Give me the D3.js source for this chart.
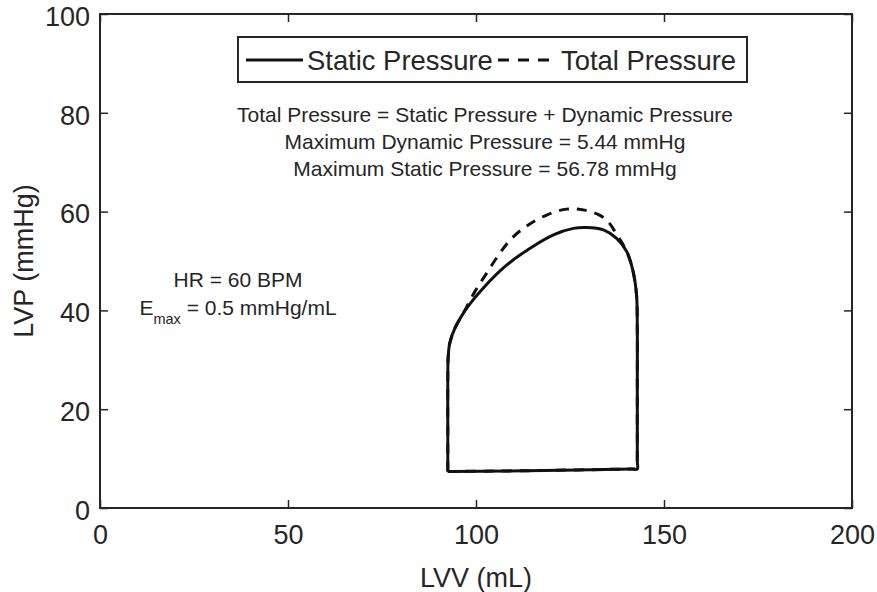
<!DOCTYPE html>
<html>
<head>
<meta charset="utf-8">
<script src="https://cdn.jsdelivr.net/npm/d3@7"></script>
<style>
  body { margin: 0; background: #fff; }
  text { font-family: "Liberation Sans", Arial, sans-serif; fill: #262626; }
</style>
</head>
<body>
<svg id="chart" width="877" height="592"></svg>
<script>
// Axis ticks
const xTicks = [0, 50, 100, 150, 200];
const yTicks = [0, 20, 40, 60, 80, 100];

// Pressure-volume loop, static pressure (LVV mL, LVP mmHg)
const lvvStatic = [92.5, 94, 118, 141.5, 142.9, 142.9, 142.9, 142.9, 142.7, 141.8, 140.1, 137.4, 133.9, 129.4, 125.9, 120.6, 114.4, 108.2, 101.9, 97.5, 94.4, 93.0, 92.6, 92.5, 92.5, 92.5, 92.5];
const lvpStatic = [7.4, 7.4, 7.6, 7.9, 7.9, 9.5, 25, 36, 43.1, 47.8, 51.9, 54.6, 56.3, 56.78, 56.6, 55.3, 52.6, 49.2, 44.5, 40.4, 36.4, 33.3, 30.5, 27, 15, 8.8, 7.4];

// Total pressure = static + dynamic (differs only during ejection)
const lvvTotal = [92.5, 94, 118, 141.5, 142.9, 142.9, 142.9, 142.9, 142.7, 141.8, 140.1, 137.8, 134.3, 128.9, 124.1, 118.8, 113.9, 109.5, 106.0, 102.8, 99.7, 97.1, 94.4, 93.0, 92.6, 92.5, 92.5, 92.5, 92.5];
const lvpTotal = [7.4, 7.4, 7.6, 7.9, 7.9, 9.5, 25, 36, 43.1, 47.8, 51.9, 54.9, 58.6, 60.3, 60.5, 59.3, 57.3, 54.6, 51.2, 47.5, 43.8, 40.1, 36.4, 33.3, 30.5, 27, 15, 8.8, 7.4];

const legendLabels = ["Static Pressure", "Total Pressure"];
const noteLines = [
  "Total Pressure = Static Pressure + Dynamic Pressure",
  "Maximum Dynamic Pressure = 5.44 mmHg",
  "Maximum Static Pressure = 56.78 mmHg"
];
const hrLabel = "HR = 60 BPM";
const emaxValue = " = 0.5 mmHg/mL";

const svg = d3.select("#chart");
const pLeft = 100, pRight = 852, pTop = 14, pBottom = 508;
const x = d3.scaleLinear().domain([0, 200]).range([pLeft, pRight]);
const y = d3.scaleLinear().domain([0, 100]).range([pBottom, pTop]);
const ink = "#262626";
const tickFont = 27;

function styleAxis(g) {
  g.select(".domain").remove();
  g.selectAll(".tick line").attr("stroke", ink).attr("stroke-width", 1.5);
  g.selectAll(".tick text").attr("font-size", tickFont).attr("fill", ink)
    .attr("font-family", "Liberation Sans, Arial, sans-serif");
}

// Bottom and left axes with labels, ticks pointing inward
svg.append("g").attr("transform", `translate(0,${pBottom})`)
  .call(d3.axisBottom(x).tickValues(xTicks).tickSize(-8).tickPadding(17))
  .call(styleAxis);
svg.append("g").attr("transform", `translate(${pLeft},0)`)
  .call(d3.axisLeft(y).tickValues(yTicks).tickSize(-8).tickPadding(10))
  .call(styleAxis)
  .selectAll(".tick text").attr("dy", "0.42em");
// Mirrored ticks on top and right
svg.append("g").attr("transform", `translate(0,${pTop})`)
  .call(d3.axisTop(x).tickValues(xTicks).tickSize(-8).tickFormat(""))
  .call(styleAxis);
svg.append("g").attr("transform", `translate(${pRight},0)`)
  .call(d3.axisRight(y).tickValues(yTicks).tickSize(-8).tickFormat(""))
  .call(styleAxis);

// Plot frame
svg.append("rect")
  .attr("x", pLeft).attr("y", pTop)
  .attr("width", pRight - pLeft).attr("height", pBottom - pTop)
  .attr("fill", "none").attr("stroke", ink).attr("stroke-width", 2);

// Axis titles
svg.append("text")
  .attr("x", (pLeft + pRight) / 2).attr("y", 587)
  .attr("text-anchor", "middle").attr("font-size", 27)
  .text("LVV (mL)");
svg.append("text")
  .attr("transform", `translate(33,${(pTop + pBottom) / 2}) rotate(-90)`)
  .attr("text-anchor", "middle").attr("font-size", 27)
  .text("LVP (mmHg)");

// Loops
const line = d3.line()
  .x(d => x(d[0])).y(d => y(d[1]))
  .curve(d3.curveCatmullRom.alpha(0.5));
const totalPts = d3.zip(lvvTotal, lvpTotal);
const staticPts = d3.zip(lvvStatic, lvpStatic);

svg.append("path")
  .attr("d", line(totalPts))
  .attr("fill", "none").attr("stroke", "#111")
  .attr("stroke-width", 3).attr("stroke-dasharray", "10,8");
svg.append("path")
  .attr("d", line(staticPts))
  .attr("fill", "none").attr("stroke", "#111")
  .attr("stroke-width", 3).attr("stroke-linejoin", "round");

// Legend
const lg = svg.append("g");
lg.append("rect")
  .attr("x", 238).attr("y", 37).attr("width", 509).attr("height", 45)
  .attr("fill", "#fff").attr("stroke", ink).attr("stroke-width", 2);
lg.append("line").attr("x1", 246).attr("x2", 303).attr("y1", 60).attr("y2", 60)
  .attr("stroke", "#111").attr("stroke-width", 3);
lg.append("text").attr("x", 307).attr("y", 70).attr("font-size", 27.4).text(legendLabels[0]);
lg.append("line").attr("x1", 498).attr("x2", 557).attr("y1", 60).attr("y2", 60)
  .attr("stroke", "#111").attr("stroke-width", 3).attr("stroke-dasharray", "11,9");
lg.append("text").attr("x", 561).attr("y", 70).attr("font-size", 27.4).text(legendLabels[1]);

// Annotations
svg.selectAll("text.note").data(noteLines).join("text")
  .attr("class", "note")
  .attr("x", 485).attr("y", (d, i) => 122 + i * 27)
  .attr("text-anchor", "middle").attr("font-size", 21)
  .text(d => d);

svg.append("text").attr("x", 238).attr("y", 287)
  .attr("text-anchor", "middle").attr("font-size", 21).text(hrLabel);
const em = svg.append("text").attr("x", 238).attr("y", 315)
  .attr("text-anchor", "middle").attr("font-size", 21);
em.append("tspan").text("E");
em.append("tspan").attr("font-size", 14.5).attr("dy", 9).text("max");
em.append("tspan").attr("dy", -9).text(emaxValue);
</script>
</body>
</html>
